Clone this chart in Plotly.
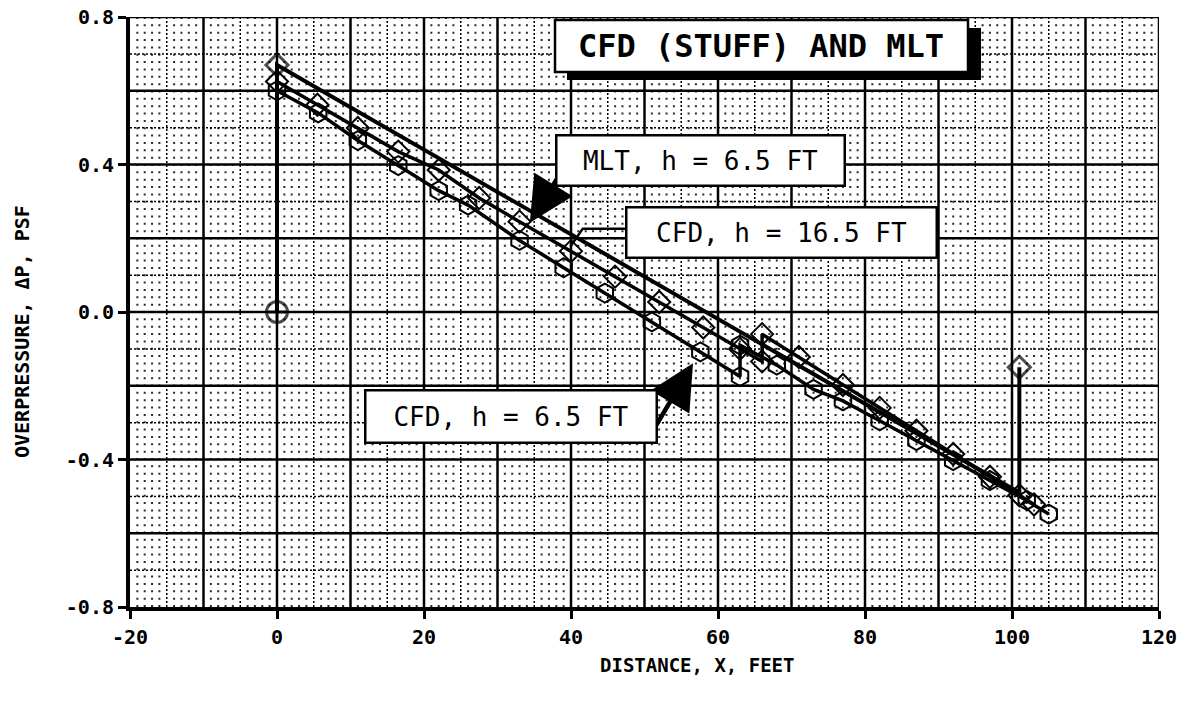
import plotly.graph_objects as go

# ---------------- data ----------------
mlt_x = [0, 0, 101, 101]
mlt_y = [0.0, 0.67, -0.49, -0.15]
mlt_symbols = ["circle-cross-open", "diamond-open", "diamond-open", "diamond-open"]
mlt_sizes = [21, 17, 0, 17]

cfd165_x = [0, 5.5, 11, 16.5, 22, 27.5, 33, 40, 46, 52, 58, 63, 66, 66, 71, 77, 82, 87, 92, 97, 101, 103]
cfd165_y = [0.625, 0.562, 0.499, 0.435, 0.385, 0.309, 0.245, 0.165, 0.096, 0.027, -0.042, -0.10,
            -0.134, -0.06, -0.122, -0.198, -0.26, -0.322, -0.385, -0.447, -0.497, -0.522]

cfd65_x = [0, 5.6, 11, 16.5, 22, 26, 33, 39, 44.6, 51, 57.6, 63, 63, 68, 73, 77, 82, 87, 92, 97, 102, 105]
cfd65_y = [0.60, 0.54, 0.465, 0.397, 0.329, 0.29, 0.194, 0.12, 0.051, -0.027, -0.108, -0.175,
           -0.09, -0.144, -0.21, -0.241, -0.295, -0.349, -0.403, -0.457, -0.511, -0.548]

x_tick_vals = [-20, 0, 20, 40, 60, 80, 100, 120]
x_tick_text = ["-20", "0", "20", "40", "60", "80", "100", "120"]
y_tick_vals = [-0.8, -0.4, 0.0, 0.4, 0.8]
y_tick_text = ["-0.8", "-0.4", "0.0", "0.4", "0.8"]

title_text = "CFD (STUFF) AND MLT"
x_title = "DISTANCE, X, FEET"
y_title = "OVERPRESSURE, \u0394P, PSF"
label_mlt = "MLT, h = 6.5 FT"
label_cfd165 = "CFD, h = 16.5 FT"
label_cfd65 = "CFD, h = 6.5 FT"

X_RANGE = [-20, 120]
Y_RANGE = [-0.8, 0.8]
FONT = "DejaVu Sans Mono"

# ---------------- figure ----------------
fig = go.Figure()

fig.add_trace(go.Scatter(
    x=cfd65_x, y=cfd65_y, mode="lines+markers", name=label_cfd65,
    line=dict(color="black", width=3.5),
    marker=dict(symbol="hexagon-open", size=19, color="black", line=dict(width=2, color="black")),
))
fig.add_trace(go.Scatter(
    x=cfd165_x, y=cfd165_y, mode="lines+markers", name=label_cfd165,
    line=dict(color="black", width=3.5),
    marker=dict(symbol="diamond-open", size=17, color="black", line=dict(width=2, color="black")),
))
fig.add_trace(go.Scatter(
    x=mlt_x, y=mlt_y, mode="lines+markers", name=label_mlt,
    line=dict(color="black", width=4),
    marker=dict(symbol=mlt_symbols, size=mlt_sizes, color="black", line=dict(width=3, color="black")),
))

# ---------------- grid (graph-paper look) ----------------
shapes = []
for v in range(X_RANGE[0] + 1, X_RANGE[1]):
    if v % 5 != 0:
        shapes.append(dict(type="line", xref="x", yref="y", x0=v, x1=v, y0=Y_RANGE[0], y1=Y_RANGE[1],
                           line=dict(color="#2a2a2a", width=2, dash="2px,5.35px"), layer="below"))
for v in range(X_RANGE[0] + 5, X_RANGE[1], 10):
    shapes.append(dict(type="line", xref="x", yref="y", x0=v, x1=v, y0=Y_RANGE[0], y1=Y_RANGE[1],
                       line=dict(color="black", width=1.5, dash="2px,2px"), layer="below"))
for k in range(-7, 8, 2):
    v = k / 10
    shapes.append(dict(type="line", xref="x", yref="y", x0=X_RANGE[0], x1=X_RANGE[1], y0=v, y1=v,
                       line=dict(color="black", width=1.5, dash="2px,2px"), layer="below"))
for v in range(X_RANGE[0] + 10, X_RANGE[1] + 1, 10):
    shapes.append(dict(type="line", xref="x", yref="y", x0=v, x1=v, y0=Y_RANGE[0], y1=Y_RANGE[1],
                       line=dict(color="black", width=2.5), layer="below"))
for k in range(-6, 9, 2):
    v = k / 10
    shapes.append(dict(type="line", xref="x", yref="y", x0=X_RANGE[0], x1=X_RANGE[1], y0=v, y1=v,
                       line=dict(color="black", width=2.5), layer="below"))

# leader line for the CFD 16.5 label
shapes.append(dict(type="path", xref="x", yref="y",
                   path="M 47.5,0.226 L 41.6,0.226 L 39.9,0.177",
                   line=dict(color="black", width=2.5), layer="above"))

# helpers: pixel -> paper fraction (plot area spans px 130..1159 and 17..607)
def pxx(p):
    return (p - 130) / 1029.0
def pyy(p):
    return (607 - p) / 590.0

# title box with drop shadow
shapes.append(dict(type="rect", xref="paper", yref="paper",
                   x0=pxx(567), x1=pxx(981), y0=pyy(80), y1=pyy(28),
                   fillcolor="black", line=dict(width=0), layer="above"))
shapes.append(dict(type="rect", xref="paper", yref="paper",
                   x0=pxx(555), x1=pxx(968), y0=pyy(72), y1=pyy(20),
                   fillcolor="white", line=dict(color="black", width=2.5), layer="above"))

annotations = [
    # arrows
    dict(x=34.4, y=0.242, ax=39.6, ay=0.41, xref="x", yref="y", axref="x", ayref="y",
         text="", showarrow=True, arrowhead=2, arrowsize=2.0, arrowwidth=4.5, arrowcolor="black"),
    dict(x=56.6, y=-0.139, ax=51.2, ay=-0.32, xref="x", yref="y", axref="x", ayref="y",
         text="", showarrow=True, arrowhead=2, arrowsize=2.0, arrowwidth=4.5, arrowcolor="black"),
    # label boxes
    dict(x=57.6, y=0.41, xref="x", yref="y", text=label_mlt, showarrow=False,
         xanchor="center", yanchor="middle",
         font=dict(family=FONT, size=26, color="black"),
         bgcolor="white", bordercolor="black", borderwidth=2.5, borderpad=0, width=286, height=48),
    dict(x=68.6, y=0.215, xref="x", yref="y", text=label_cfd165, showarrow=False,
         xanchor="center", yanchor="middle",
         font=dict(family=FONT, size=26, color="black"),
         bgcolor="white", bordercolor="black", borderwidth=2.5, borderpad=0, width=308, height=48),
    dict(x=31.8, y=-0.283, xref="x", yref="y", text=label_cfd65, showarrow=False,
         xanchor="center", yanchor="middle",
         font=dict(family=FONT, size=26, color="black"),
         bgcolor="white", bordercolor="black", borderwidth=2.5, borderpad=0, width=289, height=50),
    # title
    dict(x=pxx(761), y=pyy(46), xref="paper", yref="paper", text=title_text, showarrow=False,
         xanchor="center", yanchor="middle",
         font=dict(family=FONT, size=32, color="black", weight="bold")),
    # axis titles
    dict(x=pxx(697), y=pyy(665), xref="paper", yref="paper", text=x_title, showarrow=False,
         xanchor="center", yanchor="middle",
         font=dict(family=FONT, size=19, color="black", weight="bold")),
    dict(x=pxx(22), y=pyy(332), xref="paper", yref="paper", text=y_title, showarrow=False,
         xanchor="center", yanchor="middle",
         textangle=-90, font=dict(family=FONT, size=20, color="black", weight="bold")),
]

fig.update_layout(
    width=1202, height=702,
    margin=dict(l=130, r=43, t=17, b=95, autoexpand=False),
    paper_bgcolor="white", plot_bgcolor="white",
    showlegend=False,
    shapes=shapes,
    annotations=annotations,
    font=dict(family=FONT, color="black"),
)
fig.update_xaxes(
    range=X_RANGE, tickvals=x_tick_vals, ticktext=x_tick_text, automargin=False,
    showgrid=False, zeroline=False, showline=True, linewidth=4, linecolor="black",
    ticks="outside", ticklen=8, tickwidth=2.5, tickcolor="black", ticklabelstandoff=1,
    tickfont=dict(family=FONT, size=20, color="black", weight="bold"),
)
fig.update_yaxes(
    range=Y_RANGE, tickvals=y_tick_vals, ticktext=y_tick_text, automargin=False,
    showgrid=False, zeroline=False, showline=True, linewidth=4, linecolor="black",
    ticks="outside", ticklen=8, tickwidth=2.5, tickcolor="black", ticklabelstandoff=0,
    tickfont=dict(family=FONT, size=20, color="black", weight="bold"),
)

# remove the browser's default 8px body margin so the figure fills the 1202x702 window exactly
fig.write_html("out.html", config={"displayModeBar": False},
               post_script="document.body.style.margin='0px';")
